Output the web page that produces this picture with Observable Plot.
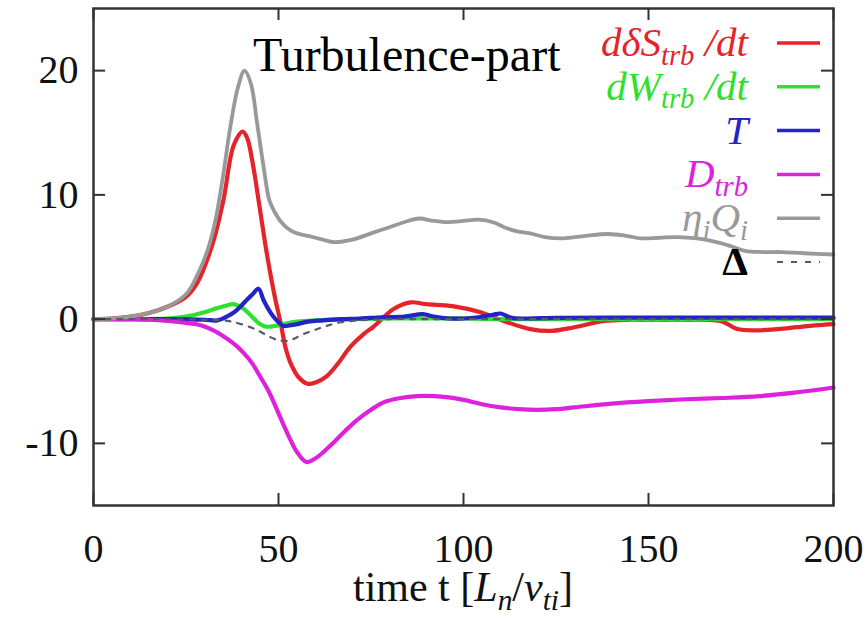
<!DOCTYPE html>
<html>
<head>
<meta charset="utf-8">
<script src="https://cdn.jsdelivr.net/npm/d3@7"></script>
<script src="https://cdn.jsdelivr.net/npm/@observablehq/plot@0.6"></script>
<style>
  html, body { margin: 0; padding: 0; background: #fff; }
  #chart svg { display: block; }
  #chart svg, #chart svg text { font-family: "Liberation Serif", "DejaVu Serif", serif !important; }
</style>
</head>
<body>
<div id="chart"></div>
<script>
// ---- data ----
const xTicks = [0, 50, 100, 150, 200];
const yTicks = [-10, 0, 10, 20];

// ηiQi (gray)
const tGray = [0,5,10,15,20,25,28,31,33,35,37,39,40.8,42.5,44.3,46,47.5,49,50.5,52.5,55,58,62,65,70,75,80,85,88,92,96,100,104,108,111,114,118,122,127,133,139,144,148,153,158,163,167,172,176,181,186,192,200];
const vGray = [0,0.05,0.2,0.5,1.0,2.0,3.5,5.7,8.0,11.5,15.5,18.6,20,19.0,15.6,12.2,9.6,8.6,7.9,7.3,6.9,6.7,6.4,6.2,6.4,6.9,7.4,7.9,8.1,7.9,7.8,7.9,8.0,7.8,7.4,7.1,6.9,6.6,6.5,6.7,6.85,6.7,6.5,6.55,6.6,6.5,6.3,5.9,5.5,5.4,5.4,5.3,5.2];

// dδS_trb/dt (red)
const tRed = [0,5,10,15,20,25,28,31,33,35.2,37.9,40.3,41.5,43,45,47,49,50.5,52,53.5,55.5,57.8,60,63,66,69.5,73,75.7,79,81,85.7,90,97,104.6,111.8,118,123.5,130,138,145,155,165,170,174,179.5,185,190,195,200];
const vRed = [0,0.05,0.2,0.5,1.0,1.8,2.9,5.0,6.9,9.7,14.0,15.1,14.6,12.6,8.8,5.0,1.8,-0.2,-2.4,-3.7,-4.7,-5.2,-5.1,-4.6,-3.6,-2.2,-1.2,-0.6,0.3,0.8,1.35,1.2,1.05,0.55,-0.25,-0.8,-0.95,-0.65,-0.15,-0.05,-0.05,-0.05,-0.2,-0.8,-0.9,-0.8,-0.65,-0.5,-0.4];

// dW_trb/dt (green)
const tGreen = [0,10,20,25,30,33,36,37.5,39,40.5,42,43.5,45,46.5,48,50,52,55,60,70,80,90,100,110,120,140,160,180,200];
const vGreen = [0,0,0.05,0.2,0.55,0.85,1.1,1.2,1.1,0.85,0.45,0.0,-0.4,-0.6,-0.6,-0.5,-0.35,-0.2,-0.1,0,0.05,0.05,0.05,0,0,0,0,0,0];

// T (blue)
const tBlue = [0,10,20,30,33.5,36,38,40,41.6,43,44.6,46,47.8,49.5,51.4,53,55,58,62,67,72,78,84,89,92,96,100,104,108,110,113,117,125,140,160,180,200];
const vBlue = [0,0,0,-0.05,-0.1,0.2,0.55,1.1,1.6,2.0,2.45,1.5,0.55,-0.1,-0.55,-0.5,-0.4,-0.2,-0.1,0,0.05,0.15,0.2,0.4,0.2,0.05,0.05,0.15,0.35,0.45,0.1,0.05,0.1,0.12,0.12,0.12,0.12];

// D_trb (magenta)
const tMag = [0,10,15,20,25,29,32,35,38,40.5,43,45,47.5,49.6,51.5,53.2,55,57.5,60,62.5,65,68,71.3,75,78.4,83,87.5,92,96,100,105,110,115,120,125,130,140,150,160,170,180,190,200];
const vMag = [0,0,-0.05,-0.15,-0.3,-0.5,-0.85,-1.35,-2.0,-2.7,-3.6,-4.6,-5.9,-7.3,-8.6,-9.7,-10.7,-11.5,-11.2,-10.6,-9.9,-9.0,-8.1,-7.3,-6.7,-6.35,-6.2,-6.2,-6.3,-6.5,-6.85,-7.1,-7.25,-7.3,-7.25,-7.1,-6.8,-6.6,-6.45,-6.35,-6.2,-5.9,-5.5];

// Δ (dashed)
const tDelta = [0,20,30,35,38,42.4,45,47.8,50,52.4,54,56.8,60,63,66.8,72,80,90,100,120,150,200];
const vDelta = [0,0,-0.05,-0.1,-0.25,-0.65,-1.0,-1.45,-1.7,-1.75,-1.6,-1.2,-0.85,-0.55,-0.25,-0.1,0,0,0,0,0,0];

// legend labels (_{...} = subscript)
const seriesLabels = ["dδS_{trb} /dt", "dW_{trb} /dt", "T", "D_{trb}", "η_{i}Q_{i}", "Δ"];
const seriesColors = ["#e5232b", "#2fe02f", "#2323c8", "#dd22dd", "#999999", "#555a66"];
const titleText = "Turbulence-part";

// ---- build ----
const zipS = (ts, vs) => ts.map((t, i) => ({t, v: vs[i]}));
const red = zipS(tRed, vRed), green = zipS(tGreen, vGreen), blue = zipS(tBlue, vBlue);
const mag = zipS(tMag, vMag), gray = zipS(tGray, vGray), delta = zipS(tDelta, vDelta);

const W = 867, H = 623, mL = 93, mR = 34, mT = 8, mB = 118;
const frameW = W - mL - mR, frameH = H - mT - mB, tick = 12;
const axisColor = "#333";
const lw = 4.2;
const serif = "Liberation Serif, DejaVu Serif, serif";

const chart = Plot.plot({
  width: W, height: H,
  marginLeft: mL, marginRight: mR, marginTop: mT, marginBottom: mB,
  style: {fontFamily: serif, background: "#fff", color: "#111", overflow: "visible"},
  x: {domain: [0, 200]},
  y: {domain: [-15, 25]},
  marks: [
    Plot.line(red,   {x: "t", y: "v", stroke: seriesColors[0], strokeWidth: lw, curve: "catmull-rom"}),
    Plot.line(green, {x: "t", y: "v", stroke: seriesColors[1], strokeWidth: lw, curve: "catmull-rom"}),
    Plot.line(blue,  {x: "t", y: "v", stroke: seriesColors[2], strokeWidth: lw, curve: "catmull-rom"}),
    Plot.line(mag,   {x: "t", y: "v", stroke: seriesColors[3], strokeWidth: lw, curve: "catmull-rom"}),
    Plot.line(gray,  {x: "t", y: "v", stroke: seriesColors[4], strokeWidth: 3.8, curve: "catmull-rom"}),
    Plot.line(delta, {x: "t", y: "v", stroke: seriesColors[5], strokeWidth: 2.2, strokeDasharray: "5,7", curve: "catmull-rom"}),
    // inward ticks, mirrored
    Plot.tickY(yTicks, {y: d => d, insetRight: frameW - tick, stroke: axisColor, strokeWidth: 2}),
    Plot.tickY(yTicks, {y: d => d, insetLeft: frameW - tick, stroke: axisColor, strokeWidth: 2}),
    Plot.tickX(xTicks, {x: d => d, insetTop: frameH - tick, stroke: axisColor, strokeWidth: 2}),
    Plot.tickX(xTicks, {x: d => d, insetBottom: frameH - tick, stroke: axisColor, strokeWidth: 2}),
    Plot.frame({stroke: axisColor, strokeWidth: 2.5}),
    Plot.axisY(yTicks, {tickSize: 0, tickPadding: 15, fontSize: 40, tickFormat: d => String(d), label: null}),
    Plot.axisX(xTicks, {tickSize: 0, tickPadding: 28, fontSize: 40, tickFormat: d => String(d), label: null})
  ]
});
document.getElementById("chart").appendChild(chart);

// ---- rich text overlays (title, legend, x label) ----
const svg = d3.select(chart);
function richText(g, str, attrs) {
  const t = g.append("text");
  for (const [k, v] of Object.entries(attrs)) t.attr(k, v);
  const parts = str.split(/(_\{[^}]*\})/).filter(s => s.length);
  let shifted = false;
  for (const p of parts) {
    const m = p.match(/^_\{(.*)\}$/);
    if (m) {
      t.append("tspan").attr("dy", "0.3em").attr("font-size", "70%").text(m[1]);
      shifted = true;
    } else {
      const ts = t.append("tspan").text(p);
      if (shifted) { ts.attr("dy", "-0.21em"); shifted = false; }
    }
  }
  return t;
}

svg.append("text")
  .attr("x", 253).attr("y", 71)
  .attr("text-anchor", "start")
  .attr("font-size", 48).attr("fill", "#000")
  .text(titleText);

const lg = svg.append("g");
const rowY0 = 43, rowStep = 43.8;
seriesLabels.forEach((lab, i) => {
  const y = rowY0 + i * rowStep;
  const isDelta = i === seriesLabels.length - 1;
  richText(lg, lab, {
    x: 748, y: y + 13, "text-anchor": "end",
    "font-size": 41, "font-style": isDelta ? "normal" : "italic",
    "font-weight": isDelta ? "bold" : "normal",
    fill: isDelta ? "#000" : seriesColors[i]
  });
  lg.append("line")
    .attr("x1", 777).attr("x2", 820).attr("y1", y).attr("y2", y)
    .attr("stroke", seriesColors[i])
    .attr("stroke-width", isDelta ? 2.2 : 3.5)
    .attr("stroke-dasharray", isDelta ? "6,8" : null);
});

// x-axis label: time t [L_n/v_ti]
const xl = svg.append("text")
  .attr("x", (mL + W - mR) / 2).attr("y", 601)
  .attr("text-anchor", "middle")
  .attr("font-size", 42).attr("fill", "#111");
xl.append("tspan").text("time t [");
xl.append("tspan").attr("font-style", "italic").text("L");
xl.append("tspan").attr("font-style", "italic").attr("font-size", "70%").attr("dy", "0.3em").text("n");
xl.append("tspan").attr("dy", "-0.21em").text("/");
xl.append("tspan").attr("font-style", "italic").text("v");
xl.append("tspan").attr("font-style", "italic").attr("font-size", "70%").attr("dy", "0.3em").text("ti");
xl.append("tspan").attr("dy", "-0.21em").text("]");
</script>
</body>
</html>
